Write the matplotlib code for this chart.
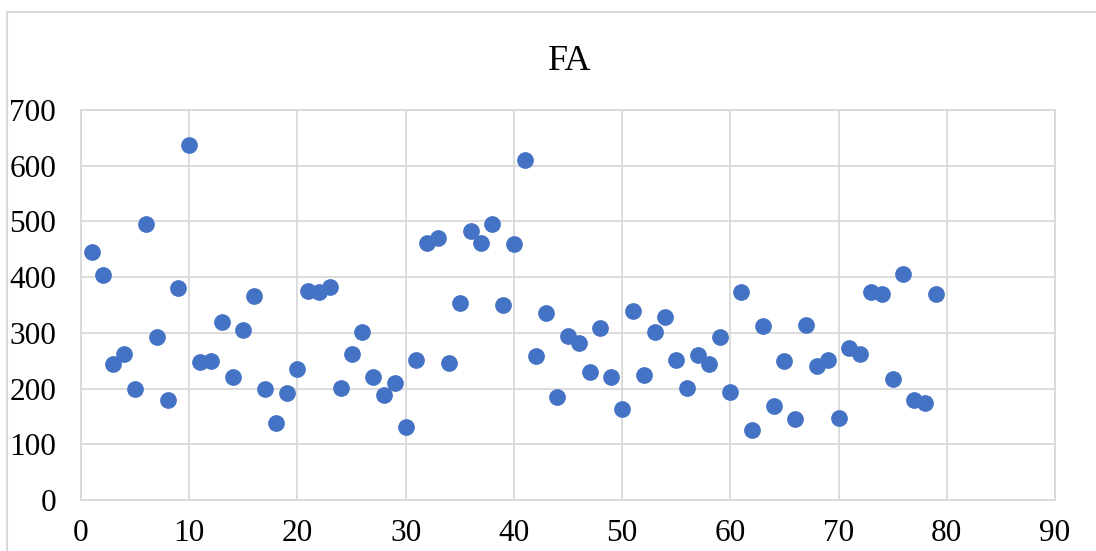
import matplotlib
matplotlib.use('agg')
import matplotlib.pyplot as plt
from matplotlib.patches import Rectangle

# FA values
x_idx = list(range(1, 80))
fa_vals = [446, 404, 245, 262, 199, 495, 292, 180, 380, 638,
           248, 250, 320, 221, 306, 367, 199, 139, 192, 235,
           376, 374, 382, 201, 262, 302, 220, 189, 210, 131,
           251, 462, 470, 246, 353, 482, 461, 496, 350, 459,
           610, 259, 336, 185, 295, 282, 230, 308, 220, 163,
           340, 225, 301, 328, 252, 201, 260, 244, 293, 193,
           373, 126, 313, 169, 249, 145, 315, 241, 252, 148,
           272, 262, 373, 369, 218, 405, 179, 175, 370]
x_ticks = list(range(0, 100, 10))
y_ticks = list(range(0, 800, 100))

plt.rcParams['font.family'] = ['Liberation Serif', 'DejaVu Serif']

fig = plt.figure(figsize=(10.96, 5.51), dpi=100)
ax = fig.add_axes([81/1096, 1-500/551, (1055-81)/1096, 390/551])

# outer chart border (left + top visible)
fig.patches.append(Rectangle((7/1096, -0.05), 1.2, 1-12/551+0.05,
                             transform=fig.transFigure, fill=False,
                             edgecolor='#d9d9d9', linewidth=1.5))

ax.scatter(x_idx, fa_vals, s=145, color='#4472C4', zorder=3, linewidths=0)

ax.set_xlim(0, 90)
ax.set_ylim(0, 700)
ax.set_xticks(x_ticks)
ax.set_yticks(y_ticks)
ax.grid(True, color='#d9d9d9', linewidth=1.3)
ax.set_axisbelow(True)
for sp in ax.spines.values():
    sp.set_color('#d9d9d9')
    sp.set_linewidth(1.3)
ax.tick_params(length=0, labelsize=22.5)
ax.tick_params(axis='x', pad=14)
ax.tick_params(axis='y', pad=18)

fig.text(570/1096, 1 - 62/551, 'FA', ha='center', va='center', fontsize=26)

plt.savefig('out.png')
